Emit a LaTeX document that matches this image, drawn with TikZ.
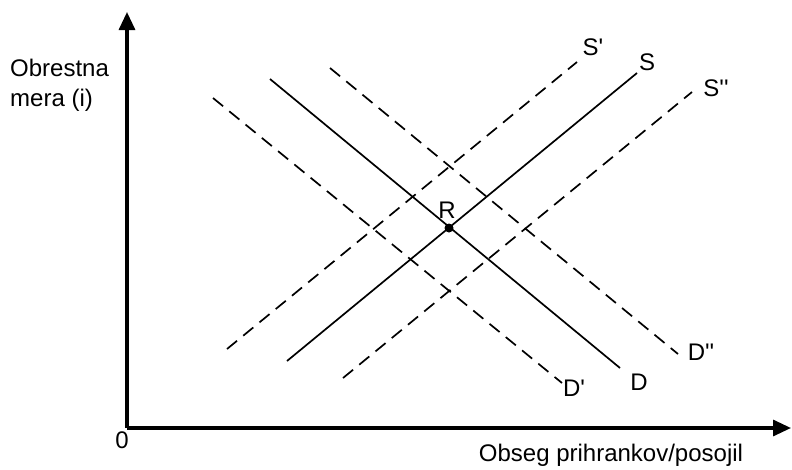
\documentclass[tikz,border=0pt]{standalone}
\usepackage{fontspec}
\setmainfont{Liberation Sans}
\usetikzlibrary{arrows.meta}
\begin{document}
\begin{tikzpicture}[x=1pt,y=-1pt,
  axis/.style={line width=3.2pt,-{Triangle[length=18pt,width=16pt]}},
  curve/.style={line width=1.7pt},
  dcurve/.style={line width=1.7pt,dash pattern=on 13pt off 8pt},
  lbl/.style={font=\fontsize{24}{28}\selectfont,inner sep=0pt}]
\useasboundingbox (0,0) rectangle (792,469);
\coordinate (O) at (127,428);
\coordinate (Ytop) at (127,12);
\coordinate (Xend) at (791,428);
\draw[axis] (O) -- (Ytop);
\draw[axis] (O) -- (Xend);
% supply curves
\coordinate (s1a) at (227,349); \coordinate (s1b) at (577,62);
\coordinate (s0a) at (287,361); \coordinate (s0b) at (637,73);
\coordinate (s2a) at (343,378); \coordinate (s2b) at (692,92);
% demand curves
\coordinate (d1a) at (213,98); \coordinate (d1b) at (562,383);
\coordinate (d0a) at (270,79); \coordinate (d0b) at (620,368);
\coordinate (d2a) at (330,68); \coordinate (d2b) at (678,354);
\draw[dcurve] (s1a) -- (s1b);
\draw[curve] (s0a) -- (s0b);
\draw[dcurve] (s2a) -- (s2b);
\draw[dcurve] (d1a) -- (d1b);
\draw[curve] (d0a) -- (d0b);
\draw[dcurve] (d2a) -- (d2b);
\fill (449,228) circle (4.5pt);
\node[lbl] (R) at (447,210) {R};
\node[lbl] (Sp) at (593,47) {S\textquotesingle};
\node[lbl] (S) at (647,62) {S};
\node[lbl] (Spp) at (716,88) {S\textquotesingle\textquotesingle};
\node[lbl] (D) at (639,382) {D};
\node[lbl] (Dp) at (574,388) {D\textquotesingle};
\node[lbl] (Dpp) at (701,352) {D\textquotesingle\textquotesingle};
\node[lbl,anchor=west] (yl1) at (10,68) {Obrestna};
\node[lbl,anchor=west] (yl2) at (10,100) {mera (i)};
\node[lbl] (zero) at (122,440) {0};
\node[lbl] (xl) at (611,455) {Obseg prihrankov/posojil};
\end{tikzpicture}
\end{document}
